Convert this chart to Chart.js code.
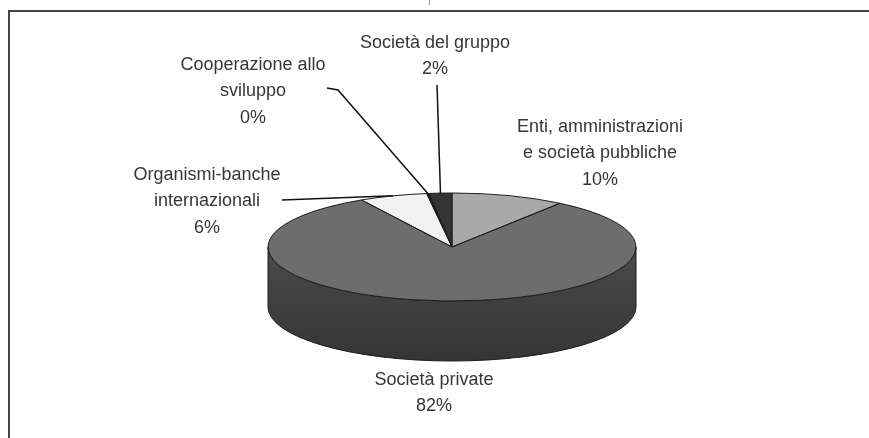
<!DOCTYPE html>
<html>
<head>
<meta charset="utf-8">
<script src="https://cdn.jsdelivr.net/npm/chart.js@4.4.1/dist/chart.umd.min.js"></script>
<style>
html, body { margin: 0; padding: 0; background: #fff; }
#wrap { position: relative; width: 869px; height: 438px; overflow: hidden; }
#frame { position: absolute; left: 8px; top: 10px; right: -4px; bottom: -4px; border-top: 2px solid #444; border-left: 2px solid #444; }
#tick { position: absolute; left: 429px; top: 0; width: 1px; height: 5px; background: #999; }
canvas { position: absolute; left: 0; top: 0; }
</style>
</head>
<body>
<div id="wrap">
  <div id="frame"></div>
  <div id="tick"></div>
  <canvas id="pie" width="869" height="438"></canvas>
</div>
<script>
// data, clockwise from 12 o'clock
var categories = ['Enti, amministrazioni e società pubbliche', 'Società private', 'Organismi-banche internazionali', 'Cooperazione allo sviluppo', 'Società del gruppo'];
var labelLines = [['Enti, amministrazioni', 'e società pubbliche'], ['Società private'], ['Organismi-banche', 'internazionali'], ['Cooperazione allo', 'sviluppo'], ['Società del gruppo']];
var values = [10, 82, 6, 0.2, 2];

var topColors = ['#a9a9a9', '#6d6d6d', '#f1f1f1', '#111111', '#343434'];
var sideColors = [['#5e5e5e', '#4a4a4a'], ['#4a4a4a', '#353535'], ['#a4a4a4', '#8c8c8c'], ['#0a0a0a', '#050505'], ['#222222', '#161616']];
var EDGE = '#1e1e1e';
var TILT = 54 / 184;   // vertical squash of the disc
var DEPTH = 60;        // thickness in px
var LINE_H = 26.5;

// label boxes: centre x, first line y, optional leader start points
var labelLayout = [
  { x: 600, y: 127 },
  { x: 434, y: 380 },
  { x: 207, y: 175, leader: [[282, 200]] },
  { x: 253, y: 65, leader: [[327, 88], [338, 90]] },
  { x: 435, y: 43, leader: [[437, 85]] }
];

function squash(ctx, a) {
  ctx.translate(a.x, a.y);
  ctx.scale(1, TILT);
  ctx.translate(-a.x, -a.y);
}

var pie3d = {
  id: 'pie3d',
  beforeDatasetsDraw: function (chart) {
    var ctx = chart.ctx;
    var arcs = chart.getDatasetMeta(0).data;
    // the visible rim is the front half, canvas angles 0..PI
    arcs.forEach(function (a, i) {
      var a1 = Math.max(a.startAngle, 0), a2 = Math.min(a.endAngle, Math.PI);
      if (a2 <= a1) return;
      var r = a.outerRadius, ry = r * TILT;
      var g = ctx.createLinearGradient(0, a.y, 0, a.y + ry + DEPTH);
      g.addColorStop(0, sideColors[i][0]);
      g.addColorStop(1, sideColors[i][1]);
      ctx.beginPath();
      ctx.ellipse(a.x, a.y, r, ry, 0, a1, a2);
      ctx.ellipse(a.x, a.y + DEPTH, r, ry, 0, a2, a1, true);
      ctx.closePath();
      ctx.fillStyle = g;
      ctx.fill();
      ctx.strokeStyle = EDGE;
      ctx.lineWidth = 1;
      ctx.stroke();
    });
    ctx.save();
    squash(ctx, arcs[0]);
  },
  afterDatasetsDraw: function (chart) {
    var ctx = chart.ctx;
    ctx.restore();
    var arcs = chart.getDatasetMeta(0).data;
    arcs.forEach(function (a) {
      ctx.save();
      squash(ctx, a);
      ctx.beginPath();
      ctx.moveTo(a.x, a.y);
      ctx.arc(a.x, a.y, a.outerRadius, a.startAngle, a.endAngle);
      ctx.closePath();
      ctx.restore();
      ctx.strokeStyle = EDGE;
      ctx.lineWidth = 1;
      ctx.stroke();
    });
  },
  afterDraw: function (chart) {
    var ctx = chart.ctx;
    var arcs = chart.getDatasetMeta(0).data;
    var total = values.reduce(function (s, v) { return s + v; }, 0);
    ctx.save();
    // leader lines
    ctx.strokeStyle = '#111';
    ctx.lineWidth = 1.5;
    arcs.forEach(function (a, i) {
      var lay = labelLayout[i];
      if (!lay.leader) return;
      var mid = (a.startAngle + a.endAngle) / 2;
      var ax = a.x + a.outerRadius * Math.cos(mid);
      var ay = a.y + a.outerRadius * TILT * Math.sin(mid);
      ctx.beginPath();
      ctx.moveTo(lay.leader[0][0], lay.leader[0][1]);
      for (var k = 1; k < lay.leader.length; k++) ctx.lineTo(lay.leader[k][0], lay.leader[k][1]);
      ctx.lineTo(ax, ay);
      ctx.stroke();
    });
    // labels
    ctx.font = '18px "Liberation Sans", Arial, sans-serif';
    ctx.fillStyle = '#363636';
    ctx.textAlign = 'center';
    ctx.textBaseline = 'middle';
    labelLines.forEach(function (lines, i) {
      var lay = labelLayout[i];
      var all = lines.concat([Math.round(values[i] / total * 100) + '%']);
      all.forEach(function (t, k) {
        ctx.fillText(t, lay.x, lay.y + k * LINE_H);
      });
    });
    ctx.restore();
  }
};

new Chart(document.getElementById('pie').getContext('2d'), {
  type: 'pie',
  data: {
    labels: categories,
    datasets: [{
      data: values,
      backgroundColor: topColors,
      borderWidth: 0,
      clip: false
    }]
  },
  options: {
    responsive: false,
    devicePixelRatio: 1,
    animation: false,
    events: [],
    layout: { padding: { left: 268, right: 233, top: 63, bottom: 7 } },
    plugins: {
      legend: { display: false },
      tooltip: { enabled: false }
    }
  },
  plugins: [pie3d]
});
</script>
</body>
</html>
